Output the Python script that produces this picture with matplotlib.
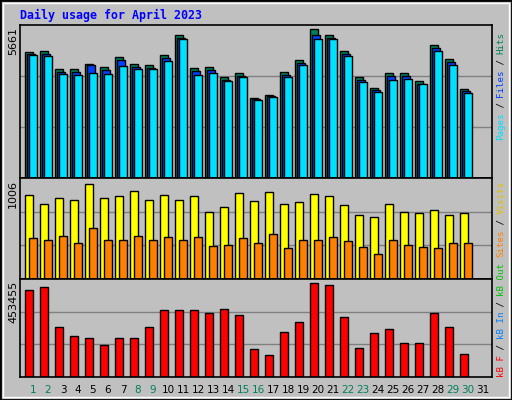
import matplotlib
matplotlib.use("Agg")
import matplotlib.pyplot as plt
from matplotlib.patches import Rectangle

days = list(range(1, 32))
hits = [4804,4841,4134,4134,4320,4208,4581,4320,4283,4655,5437,4171,4208,3836,3985,
        3054,3165,4022,4469,5661,5437,4841,3836,3426,3985,3985,3687,5065,4506,3389]
files = [4700,4730,4030,4020,4280,4100,4470,4210,4180,4550,5330,4070,4100,3730,3880,
         2990,3130,3920,4370,5450,5330,4730,3730,3350,3880,3880,3590,4950,4400,3310]
pages = [4655,4618,3947,3910,3985,3947,4245,4134,4134,4432,5288,3910,3985,3687,3836,
         2979,3091,3836,4283,5288,5288,4618,3650,3277,3724,3761,3575,4841,4283,3240]
visits = [888,792,856,835,1006,856,877,931,835,888,835,877,706,760,910,
          824,920,792,813,899,877,781,674,653,792,706,696,728,674,696]
sites = [428,407,449,375,535,407,417,449,407,439,407,439,353,364,428,
         375,471,332,417,407,439,396,342,268,417,364,342,332,375,385]
kbytes = [418965,433752,241521,197160,187302,152799,187302,187302,241521,325314,
          325314,325314,310527,330243,300669,133083,108438,216876,266166,453455,
          443610,290811,138012,211947,231663,162657,162657,310527,241521,113367]
weekend = [1,2,8,9,15,16,22,23,29,30]
max_hits, max_visits, max_kb = 5661, 1006, 453455

W, H = 512, 400
fig = plt.figure(figsize=(W/100, H/100), dpi=100)
fig.patch.set_facecolor("#C0C0C0")
fig.patches.append(Rectangle((0, 0), 1, 1, transform=fig.transFigure, fill=False,
                             edgecolor="black", lw=2))
fig.patches.append(Rectangle((3/W, 3/H), 1-6/W, 1-6/H, transform=fig.transFigure,
                             fill=False, edgecolor="white", lw=1))

def ax_px(x0, y0, x1, y1):
    return fig.add_axes([x0/W, 1-y1/H, (x1-x0)/W, (y1-y0)/H])

xl = (1 + (20-33)/15, 1 + (492-33)/15)
bw = 8/15
mono = "DejaVu Sans Mono"

def style(ax, ymax):
    ax.set_facecolor("#C0C0C0")
    ax.set_xlim(*xl)
    ax.set_ylim(0, ymax)
    ax.set_xticks([]); ax.set_yticks([])
    for g in (ymax/3, 2*ymax/3):
        ax.axhline(g, color="#808080", lw=1, zorder=0)
    for s in ax.spines.values():
        s.set_color("black"); s.set_linewidth(1.2)

d = days[:len(hits)]
ax1 = ax_px(20, 25, 492, 178)
style(ax1, max_hits*1.027)
ax1.bar([x-0.53 for x in d], hits, width=bw, align="edge", color="#00805C", edgecolor="black", lw=1)
ax1.bar([x-0.40 for x in d], files, width=bw, align="edge", color="#0040FF", edgecolor="black", lw=1)
ax1.bar([x-0.27 for x in d], pages, width=bw, align="edge", color="#00E0FF", edgecolor="black", lw=1)

ax2 = ax_px(20, 178, 492, 279)
style(ax2, max_visits*1.06)
ax2.bar([x-0.53 for x in d], visits, width=bw, align="edge", color="#FFFF00", edgecolor="black", lw=1)
ax2.bar([x-0.27 for x in d], sites, width=bw, align="edge", color="#FF8000", edgecolor="black", lw=1)

ax3 = ax_px(20, 279, 492, 377)
style(ax3, max_kb*1.045)
ax3.bar([x-0.53 for x in d], kbytes, width=bw, align="edge", color="#FF0000", edgecolor="black", lw=1)

for day in days:
    x = (33 + (day-1)*15)/W
    fig.text(x, 1-390/H, str(day), ha="center", va="center", fontsize=7.5,
             color="#00805C" if day in weekend else "black")

fig.text(20/W, 1-15/H, "Daily usage for April 2023", fontsize=8.4, fontweight="bold",
         family=mono, color="#0000FF", ha="left", va="center")

for lab, ytop in ((str(max_hits), 27), (str(max_visits), 180), (str(max_kb), 281)):
    fig.text(13/W, 1-ytop/H, lab, rotation=90, ha="center", va="top", fontsize=8)

def vlabel(parts, ystart, step=5.4):
    y = ystart
    for txt, col in parts:
        fig.text(501/W, 1-y/H, txt, rotation=90, ha="center", va="bottom",
                 fontsize=6.6, family=mono, color=col)
        y -= step*len(txt)

vlabel([("Pages", "#00E0FF"), (" / ", "black"), ("Files", "#0040FF"),
        (" / ", "black"), ("Hits", "#00805C")], 140)
vlabel([("Sites", "#FF8000"), (" / ", "black"), ("Visits", "#E0C000")], 257)
vlabel([("kB F", "#FF0000"), (" / ", "black"), ("kB In", "#0080FF"),
        (" / ", "black"), ("kB Out", "#00C000")], 377)

fig.savefig("out.png", dpi=100, facecolor=fig.get_facecolor())
